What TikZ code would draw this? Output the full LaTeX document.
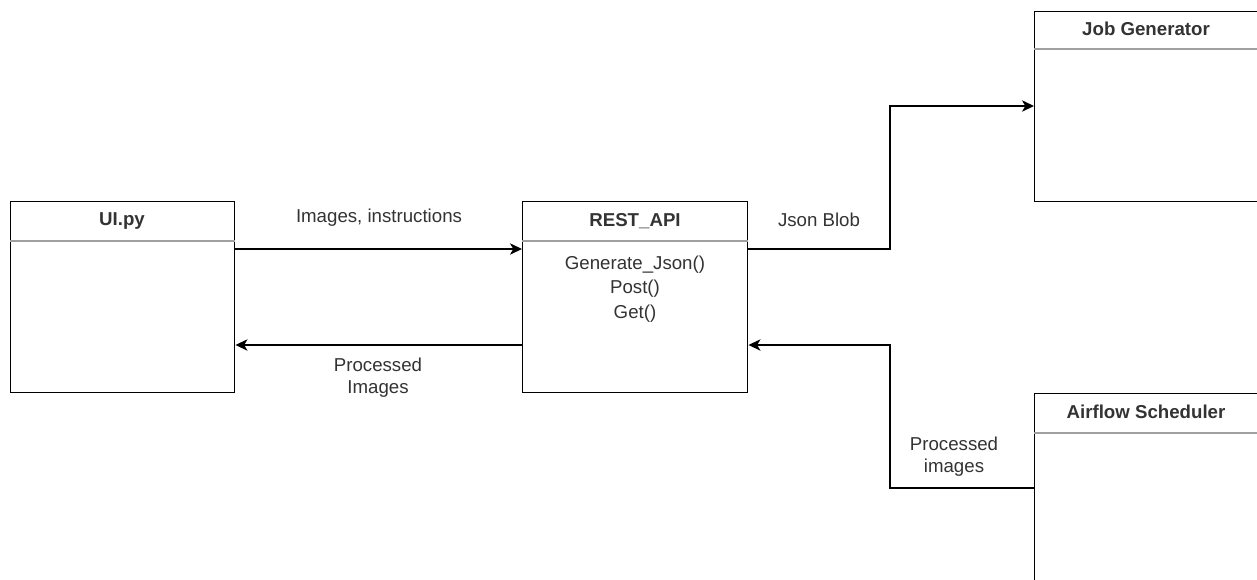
\documentclass[tikz,border=0pt]{standalone}
\usepackage{fontspec}
\setmainfont{Liberation Sans}
\usetikzlibrary{arrows.meta,calc}
\definecolor{txt}{HTML}{333333}
\definecolor{divider}{HTML}{A0A0A0}
\tikzset{
  classbox/.style={draw=black, line width=1.1pt, fill=white, anchor=north west, inner sep=0pt},
  classtitle/.style={font=\fontsize{14}{16.3}\selectfont\bfseries, text=txt, anchor=center},
  lbl/.style={font=\fontsize{14}{16.3}\selectfont, text=txt, align=center, anchor=center},
  methods/.style={font=\fontsize{14}{18.5}\selectfont, text=txt, align=center, anchor=north},
  conn/.style={draw=black, line width=1.1pt, -{Stealth[length=9pt,width=8.5pt,inset=2.5pt]}},
  divline/.style={draw=divider, line width=0.8pt}
}
\begin{document}
\begin{tikzpicture}[x=0.75pt,y=-0.75pt]
\useasboundingbox (0,0) rectangle (1257,579);
\fill[white] (0,0) rectangle (1257,579);
\clip (0,0) rectangle (1257,579);

% class boxes
\node[classbox, minimum width=168pt, minimum height=143.25pt] (ui) at (10,201) {};
\node[classbox, minimum width=168.75pt, minimum height=143.25pt] (rest) at (522,201) {};
\node[classbox, minimum width=177pt, minimum height=142.5pt] (job) at (1034,11) {};
\node[classbox, minimum width=177pt, minimum height=170pt] (air) at (1034,393) {};

% header dividers
\draw[divline] ($(ui.north west)+(0,-30pt)$) -- ($(ui.north east)+(0,-30pt)$);
\draw[divline] ($(rest.north west)+(0,-30pt)$) -- ($(rest.north east)+(0,-30pt)$);
\draw[divline] ($(job.north west)+(0,-28.5pt)$) -- ($(job.north east)+(0,-28.5pt)$);
\draw[divline] ($(air.north west)+(0,-30pt)$) -- ($(air.north east)+(0,-30pt)$);

% titles
\node[classtitle] (uiT) at (122,221) {UI.py};
\node[classtitle] (restT) at (635,221) {REST\_API};
\node[classtitle] (jobT) at (1146,29) {Job Generator};
\node[classtitle] (airT) at (1146,412) {Airflow Scheduler};

% methods
\node[methods] (restM) at (635,251) {Generate\_Json()\\Post()\\Get()};

% helper coordinates
\coordinate (yA) at (0,249);
\coordinate (yB) at (0,345);
\coordinate (yJ) at (0,106);
\coordinate (yF) at (0,488);
\coordinate (mx) at (890,0);

% connectors
\draw[conn] (ui.east |- yA) -- (rest.west |- yA);
\draw[conn] (rest.west |- yB) -- (ui.east |- yB);
\draw[conn] (rest.east |- yA) -- (mx |- yA) -- (mx |- yJ) -- (job.west |- yJ);
\draw[conn] (air.west |- yF) -- (mx |- yF) -- (mx |- yB) -- (rest.east |- yB);

% labels
\node[lbl] (l1) at (379,218) {Images, instructions};
\node[lbl] (l2) at (378,378) {Processed\\Images};
\node[lbl] (l3) at (819,220) {Json Blob};
\node[lbl] (l4) at (954,457) {Processed\\images};
\end{tikzpicture}
\end{document}
